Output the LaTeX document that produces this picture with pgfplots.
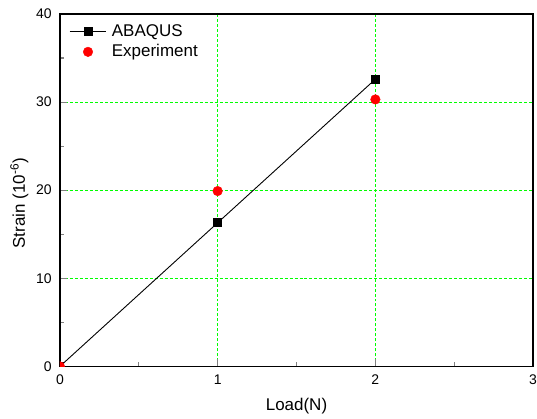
\documentclass[border=0pt]{standalone}
\usepackage{pgfplots}
\pgfplotsset{compat=1.18}
\usepackage{fontspec}
\setmainfont{Liberation Sans}
\definecolor{gridgreen}{RGB}{0,255,0}
\begin{document}
\fontsize{14}{16}\selectfont
\begin{tikzpicture}
\begin{axis}[
  scale only axis,
  width=474pt, height=353pt,
  xmin=0, xmax=3, ymin=0, ymax=40,
  xtick={0,1,2,3}, ytick={0,10,20,30,40},
  minor xtick={0.5,1.5,2.5}, minor ytick={5,15,25,35},
  tick align=inside,
  major tick length=7pt, minor tick length=4pt,
  tick style={line width=1.1pt},
  axis line style={line width=1.3pt},
  /pgf/number format/assume math mode=true,
  ticklabel style={font=\fontsize{14}{16}\selectfont},
  yticklabel style={inner sep=0pt, xshift=-8pt},
  xticklabel style={inner sep=0pt, yshift=-8pt},
  xtick pos=bottom, ytick pos=left,
  grid=major,
  grid style={draw=gridgreen, line width=1.1pt, dash pattern=on 3pt off 2pt},
  xlabel={Load(N)}, ylabel={Strain (10\textsuperscript{-6})},
  every axis x label/.style={at={(axis description cs:0.5,-0.1246)}, anchor=base, font=\fontsize{17}{19}\selectfont},
  every axis y label/.style={at={(axis description cs:-0.0738,0.463)}, rotate=90, anchor=base, font=\fontsize{17}{19}\selectfont},
  legend style={draw=none, fill=none, at={(rel axis cs:0,1)}, anchor=north west, xshift=9pt, yshift=-9.5pt,
    inner xsep=0pt, inner ysep=0pt, font=\fontsize{17}{19}\selectfont,
    nodes={inner sep=0pt, text height=12.5pt, text depth=4pt}, row sep=3.5pt, column sep=5pt},
  legend cell align=left,
  legend image code/.code={\draw[mark repeat=2,mark phase=2] plot coordinates {(0cm,0cm)(0.65cm,0cm)(1.3cm,0cm)};},
  clip marker paths=true,
]
\addplot[black, line width=0.9pt, mark=square*, mark size=4pt] coordinates {(0,0) (1,16.3) (2,32.6)};
\addlegendentry{ABAQUS}
\addplot[only marks, red, mark=*, mark size=4.8pt] coordinates {(0,0) (1,19.9) (2,30.3)};
\addlegendentry{Experiment}
\end{axis}
\path (current axis.south west) ++(-60pt,-49pt) rectangle ++(537pt,416pt);
\end{tikzpicture}
\end{document}
